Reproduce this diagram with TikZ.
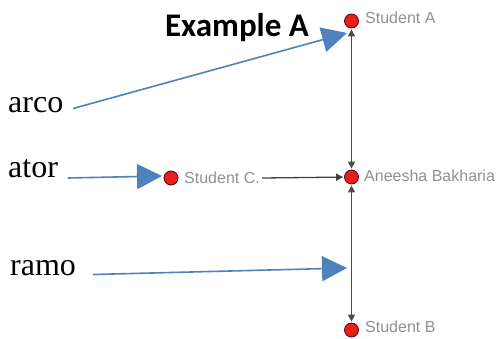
\documentclass[tikz,border=0pt]{standalone}
\usepackage{fontspec}
\setmainfont{Liberation Serif}
\newfontfamily\titlefont{Carlito}
\newfontfamily\labfont{Liberation Sans}
\usetikzlibrary{arrows.meta}
\definecolor{pblue}{RGB}{79,129,189}
\definecolor{pred}{RGB}{232,32,28}
\definecolor{lgray}{RGB}{145,145,145}
\tikzset{
  actor/.style={circle,fill=pred,draw=red!35!black,line width=0.8pt,minimum size=14pt,inner sep=0pt},
  stulabel/.style={font=\labfont\fontsize{16}{16}\selectfont,text=lgray,inner sep=0pt,anchor=west},
  tie/.style={draw=black!70,line width=1.3pt,{Triangle[length=7pt,width=7pt]}-{Triangle[length=7pt,width=7pt]},shorten <=1pt,shorten >=1pt},
  onetie/.style={draw=black!75,line width=1.3pt,-{Triangle[length=7pt,width=7pt]},shorten >=1pt},
  term/.style={font=\fontsize{32}{32}\selectfont,inner sep=0pt,anchor=base west},
  pointer/.style={draw=pblue,line width=1.6pt,-{Triangle[length=25pt,width=25pt]}}
}
\begin{document}
\begin{tikzpicture}[x=1pt,y=-1pt]
\useasboundingbox (0,0) rectangle (500,338);
\node[font=\titlefont\bfseries\fontsize{33}{33}\selectfont,anchor=base,inner sep=0pt] (title) at (237,36) {Example A};
\node[actor] (A) at (351.5,21) {};
\node[actor] (N) at (351.5,177) {};
\node[actor] (C) at (171,178) {};
\node[actor] (B) at (351.5,330) {};
\node[stulabel] (lA) at (365,18) {Student A};
\node[stulabel] (lN) at (364,176) {Aneesha Bakharia};
\node[stulabel] (lC) at (184,178) {Student C.};
\node[stulabel] (lB) at (365,327) {Student B};
\draw[tie] (A) -- (N);
\draw[tie] (N) -- (B);
\coordinate (cs) at ([xshift=2pt]lC.east);
\draw[onetie] (cs) -- (N);
\node[term] (arco) at (8,112) {arco};
\node[term] (ator) at (8,177) {ator};
\node[term] (ramo) at (10,275) {ramo};
\coordinate (tA) at (347,33);
\coordinate (tC) at (162,176);
\coordinate (tR) at (347,268);
\coordinate (sA) at (73,108.5);
\coordinate (sC) at (68,178);
\coordinate (sR) at (93,274.5);
\draw[pointer] (sA) -- (tA);
\draw[pointer] (sC) -- (tC);
\draw[pointer] (sR) -- (tR);
\end{tikzpicture}
\end{document}
